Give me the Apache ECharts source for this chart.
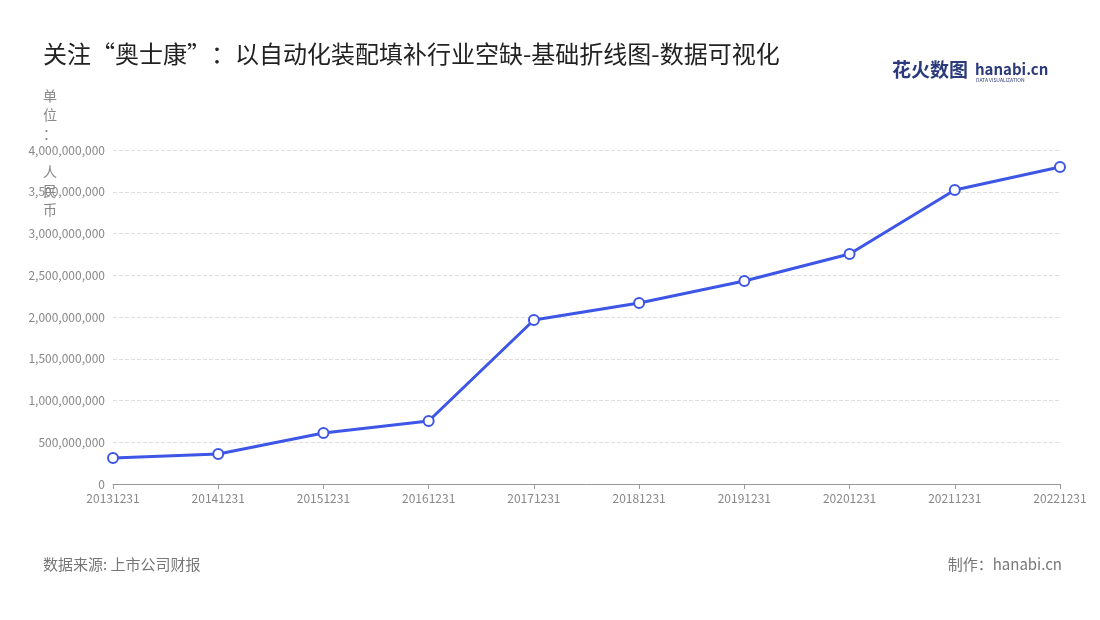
<!DOCTYPE html><html><head><meta charset="utf-8"><script src="https://cdn.jsdelivr.net/npm/echarts@6/dist/echarts.min.js"></script></head><body style="margin:0"><div id="c" style="width:1100px;height:620px"></div><script>
const categories=['20131231','20141231','20151231','20161231','20171231','20181231','20191231','20201231','20211231','20221231'];
const values=[311000000,359000000,611000000,754000000,1964000000,2168000000,2431000000,2754000000,3521000000,3796000000];
const ch=echarts.init(document.getElementById('c'));
const F='"Noto Sans CJK SC","Noto Sans",sans-serif';
ch.setOption({
title:{text:'关注“奥士康”：以自动化装配填补行业空缺-基础折线图-数据可视化',left:38,top:37,textStyle:{fontSize:24,fontWeight:'normal',color:'#222',fontFamily:F}},
grid:{left:113,right:40,top:150,bottom:136},
xAxis:{type:'category',data:categories,boundaryGap:false,axisLine:{lineStyle:{color:'#999'}},axisTick:{show:true,lineStyle:{color:'#999'}},axisLabel:{color:'#888',fontSize:12,fontFamily:F,interval:0}},
yAxis:{type:'value',min:0,max:4000000000,interval:500000000,axisLine:{show:false},axisTick:{show:false},splitLine:{lineStyle:{type:'dashed',color:'#ddd'}},axisLabel:{color:'#888',fontSize:12,fontFamily:F,formatter:v=>v.toLocaleString('en-US')}},
series:[{type:'line',data:values,symbol:'circle',symbolSize:10,itemStyle:{color:'#fff',borderColor:'#3d56e6',borderWidth:2},lineStyle:{color:'#3d56e6',width:3}}],
graphic:[
{type:'text',left:43,top:86,style:{text:'单\n位\n：\n\n人\n民\n币',font:'14px '+F,fill:'#888',lineHeight:19}},
{type:'text',left:43,top:557,style:{text:'数据来源: 上市公司财报',font:'15px '+F,fill:'#777'}},
{type:'text',right:38,top:557,style:{text:'制作：hanabi.cn',font:'15px '+F,fill:'#777'}},
{type:'text',left:892,top:60,style:{text:'花火数图',font:'bold 19px '+F,fill:'#2a3a7a'}},
{type:'text',left:975,top:62,style:{text:'hanabi.cn',font:'bold 15px '+F,fill:'#2a3a7a'}},
{type:'text',left:976,top:78,style:{text:'DATA VISUALIZATION',font:'5px '+F,fill:'#2a3a7a'}}
]});
</script></body></html>
